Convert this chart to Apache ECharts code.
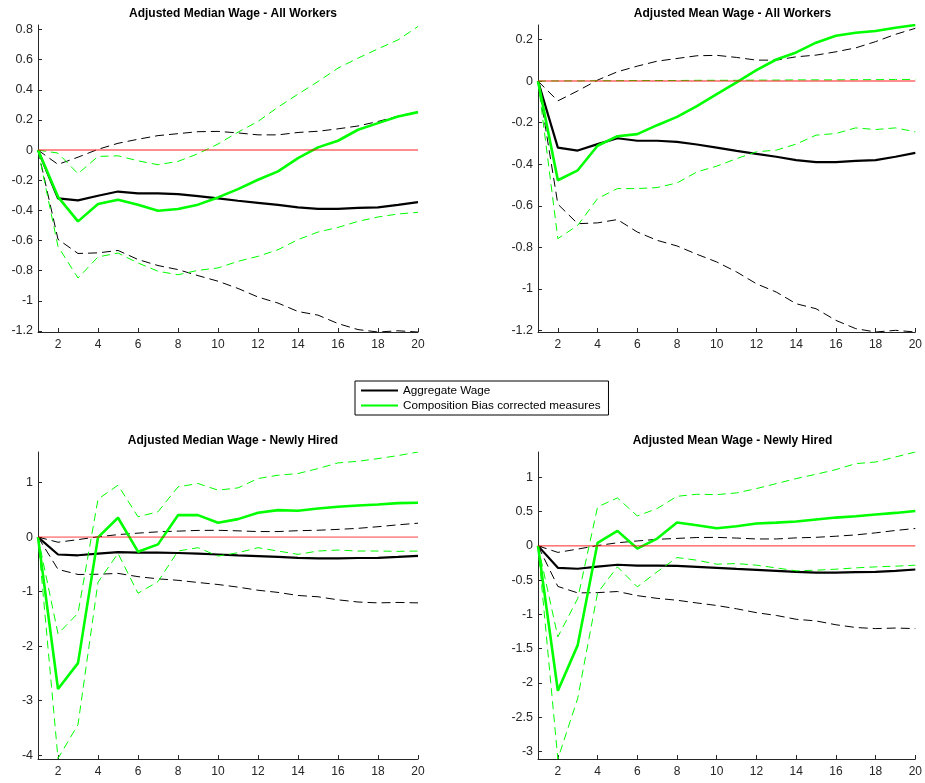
<!DOCTYPE html>
<html>
<head>
<meta charset="utf-8">
<script src="https://cdn.jsdelivr.net/npm/echarts@6/dist/echarts.min.js"></script>
<style>
html,body{margin:0;padding:0;background:#fff;}
#chart{width:925px;height:783px;}
</style>
</head>
<body>
<div id="chart"></div>
<script>
// ---------- data ----------
var periods = [1,2,3,4,5,6,7,8,9,10,11,12,13,14,15,16,17,18,19,20];
var xTicks = [2,4,6,8,10,12,14,16,18,20];

var titles = [
  'Adjusted Median Wage - All Workers',
  'Adjusted Mean Wage - All Workers',
  'Adjusted Median Wage - Newly Hired',
  'Adjusted Mean Wage - Newly Hired'
];
var legendNames = ['Aggregate Wage', 'Composition Bias corrected measures'];

// aggregate wage (same in every panel)
var aggMid = [0,-0.32,-0.334,-0.303,-0.275,-0.287,-0.287,-0.292,-0.305,-0.32,-0.336,-0.35,-0.364,-0.38,-0.39,-0.39,-0.384,-0.38,-0.364,-0.345];
var aggUp  = [0,-0.095,-0.047,0.005,0.045,0.072,0.096,0.109,0.122,0.124,0.114,0.101,0.101,0.117,0.125,0.141,0.16,0.19,0.225,0.254];
var aggLo  = [0,-0.592,-0.686,-0.682,-0.666,-0.726,-0.766,-0.793,-0.833,-0.87,-0.918,-0.975,-1.015,-1.071,-1.095,-1.151,-1.191,-1.207,-1.199,-1.207];

// panel 1: median, all workers
var medAllMid = [0,-0.31,-0.473,-0.358,-0.329,-0.362,-0.402,-0.391,-0.362,-0.314,-0.259,-0.197,-0.141,-0.053,0.018,0.062,0.135,0.179,0.223,0.252];
var medAllUp  = [0,-0.02,-0.157,-0.042,-0.038,-0.071,-0.097,-0.075,-0.024,0.04,0.119,0.19,0.285,0.371,0.455,0.544,0.61,0.672,0.731,0.82];
var medAllLo  = [0,-0.639,-0.849,-0.709,-0.683,-0.749,-0.804,-0.827,-0.798,-0.782,-0.738,-0.705,-0.661,-0.594,-0.544,-0.513,-0.473,-0.444,-0.424,-0.413];

// panel 2: mean, all workers
var meanAllMid = [0,-0.477,-0.429,-0.311,-0.265,-0.255,-0.212,-0.172,-0.12,-0.063,-0.006,0.053,0.104,0.138,0.185,0.218,0.233,0.241,0.257,0.27];
var meanAllUp  = [0,0.001,0.001,0.002,0.002,0.003,0.003,0.003,0.004,0.004,0.004,0.005,0.005,0.006,0.006,0.006,0.007,0.007,0.008,0.008];
var meanAllLo  = [0,-0.758,-0.694,-0.565,-0.517,-0.517,-0.512,-0.49,-0.437,-0.409,-0.373,-0.34,-0.332,-0.303,-0.26,-0.252,-0.225,-0.233,-0.225,-0.244];

// panel 3: median, newly hired
var medNewMid = [0,-2.787,-2.311,-0.006,0.354,-0.268,-0.134,0.402,0.402,0.262,0.329,0.445,0.494,0.482,0.524,0.555,0.579,0.598,0.622,0.628];
var medNewUp  = [0,-1.774,-1.396,0.695,0.951,0.372,0.463,0.921,0.982,0.86,0.902,1.073,1.134,1.165,1.256,1.36,1.39,1.439,1.494,1.56];
var medNewLo  = [0,-4.06,-3.439,-0.829,-0.299,-1.03,-0.817,-0.256,-0.195,-0.348,-0.287,-0.195,-0.256,-0.317,-0.256,-0.238,-0.256,-0.256,-0.262,-0.256];

// panel 4: mean, newly hired
var meanNewMid = [0,-2.114,-1.448,0.044,0.219,-0.039,0.107,0.34,0.301,0.258,0.287,0.326,0.34,0.355,0.384,0.413,0.432,0.457,0.481,0.51];
var meanNewUp  = [0,-1.327,-0.768,0.569,0.7,0.437,0.544,0.724,0.753,0.748,0.773,0.836,0.909,0.982,1.045,1.113,1.2,1.224,1.297,1.37];
var meanNewLo  = [0,-3.11,-2.225,-0.685,-0.306,-0.598,-0.379,-0.17,-0.209,-0.267,-0.258,-0.282,-0.321,-0.364,-0.355,-0.34,-0.321,-0.306,-0.296,-0.282];

// y tick labels per panel
var yTicks1 = [-1.2,-1,-0.8,-0.6,-0.4,-0.2,0,0.2,0.4,0.6,0.8];
var yTicks2 = [-1.2,-1,-0.8,-0.6,-0.4,-0.2,0,0.2];
var yTicks3 = [-4,-3,-2,-1,0,1];
var yTicks4 = [-3,-2.5,-2,-1.5,-1,-0.5,0,0.5,1];

// ---------- layout ----------
var FONT = '"Liberation Sans", Arial, Helvetica, sans-serif';
var panels = [
  {grid:{left:38, top:25, width:380, height:307}, yMin:-1.207, yMax:0.83, yTicks:yTicks1, mid:medAllMid, up:medAllUp, lo:medAllLo, zeroW:1.5, zeroOp:0.6},
  {grid:{left:538, top:25, width:379, height:307}, yMin:-1.207, yMax:0.27, yTicks:yTicks2, mid:meanAllMid, up:meanAllUp, lo:meanAllLo, zeroW:1.5, zeroOp:0.6},
  {grid:{left:38, top:452, width:380, height:307}, yMin:-4.07, yMax:1.56, yTicks:yTicks3, mid:medNewMid, up:medNewUp, lo:medNewLo, zeroW:1, zeroOp:0.75},
  {grid:{left:538, top:452, width:379, height:307}, yMin:-3.11, yMax:1.37, yTicks:yTicks4, mid:meanNewMid, up:meanNewUp, lo:meanNewLo, zeroW:1, zeroOp:0.85}
];

function pairs(arr){ return periods.map(function(p,i){ return [p, arr[i]]; }); }
function zeroLine(){ return [[periods[0],0],[periods[periods.length-1],0]]; }

var grids=[], xAxes=[], yAxes=[], series=[], titleArr=[];
var axisColor = '#262626';
panels.forEach(function(p, k){
  grids.push(p.grid);
  titleArr.push({
    text: titles[k],
    left: p.grid.left + p.grid.width/2,
    top: p.grid.top - 22,
    textAlign: 'center',
    textStyle: {fontFamily: FONT, fontSize: 12, fontWeight: 'bold', color: '#000'}
  });
  xAxes.push({
    type:'value', gridIndex:k, min:periods[0], max:periods[periods.length-1],
    axisLine:{show:true, onZero:false, lineStyle:{color:axisColor, width:1}},
    axisTick:{show:true, inside:true, length:4, customValues:xTicks, lineStyle:{color:axisColor}},
    axisLabel:{customValues:xTicks, color:axisColor, fontSize:12, fontFamily:FONT, margin:7},
    splitLine:{show:false}
  });
  yAxes.push({
    type:'value', gridIndex:k, min:p.yMin, max:p.yMax,
    axisLine:{show:true, onZero:false, lineStyle:{color:axisColor, width:1}},
    axisTick:{show:true, inside:true, length:4, customValues:p.yTicks, lineStyle:{color:axisColor}},
    axisLabel:{customValues:p.yTicks, color:axisColor, fontSize:12.5, fontFamily:FONT, margin:5},
    splitLine:{show:false}
  });
  var base = {type:'line', xAxisIndex:k, yAxisIndex:k, symbol:'none', silent:true, animation:false};
  series.push(Object.assign({}, base, {name:'agg-up-'+k, data:pairs(aggUp), lineStyle:{color:'#000', width:1, type:[9,5]}, itemStyle:{color:'#000'}}));
  series.push(Object.assign({}, base, {name:'agg-lo-'+k, data:pairs(aggLo), lineStyle:{color:'#000', width:1, type:[9,5]}, itemStyle:{color:'#000'}}));
  series.push(Object.assign({}, base, {name:legendNames[0], data:pairs(aggMid), lineStyle:{color:'#000', width:2.2}, itemStyle:{color:'#000'}}));
  series.push(Object.assign({}, base, {name:legendNames[1], data:pairs(p.mid), lineStyle:{color:'#00ff00', width:2.6}, itemStyle:{color:'#00ff00'}}));
  series.push(Object.assign({}, base, {name:'cb-up-'+k, data:pairs(p.up), lineStyle:{color:'#00ff00', width:1, type:[8,5]}, itemStyle:{color:'#00ff00'}}));
  series.push(Object.assign({}, base, {name:'cb-lo-'+k, data:pairs(p.lo), lineStyle:{color:'#00ff00', width:1, type:[8,5]}, itemStyle:{color:'#00ff00'}}));
  series.push(Object.assign({}, base, {name:'zero-'+k, data:zeroLine(), lineStyle:{color:'#ff0000', width:p.zeroW, opacity:p.zeroOp}, itemStyle:{color:'#ff0000'}}));
});

var chart = echarts.init(document.getElementById('chart'), null, {renderer:'canvas'});
chart.setOption({
  animation:false,
  backgroundColor:'#fff',
  title:titleArr,
  grid:grids,
  xAxis:xAxes,
  yAxis:yAxes,
  legend:{
    orient:'vertical', left:355, top:381,
    padding:[3,8,3,6], itemGap:2, itemWidth:37, itemHeight:2,
    borderColor:'#000', borderWidth:1, backgroundColor:'#fff',
    selectedMode:false,
    textStyle:{fontFamily:FONT, fontSize:11.7, color:'#000', lineHeight:13},
    data:[{name:legendNames[0], icon:'rect'},{name:legendNames[1], icon:'rect'}]
  },
  series:series
});
</script>
</body>
</html>
